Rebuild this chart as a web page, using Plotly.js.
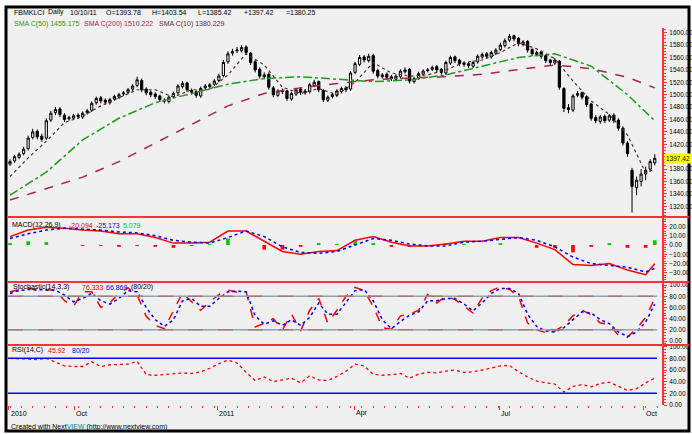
<!DOCTYPE html>
<html><head><meta charset="utf-8">
<script src="https://cdn.plot.ly/plotly-3.0.1.min.js"></script>
<style>html,body{margin:0;padding:0;background:#fff;}#chart{width:692px;height:434px;}</style>
</head><body><div id="chart"></div>
<script>
// ---- price candles (2 trading days per candle) ----
const openP=[1388,1393,1399,1405,1413,1431,1441,1433,1430,1459,
1471,1477,1467,1461,1462,1467,1464,1471,1475,1487,
1495,1491,1487,1493,1496,1501,1504,1509,1515,1523,
1509,1504,1501,1498,1491,1489,1497,1503,1513,1519,
1507,1505,1498,1511,1513,1517,1523,1531,1553,1567,
1571,1571,1577,1567,1553,1541,1529,1533,1511,1499,
1507,1506,1493,1501,1509,1503,1505,1515,1521,1507,
1491,1497,1499,1505,1511,1509,1536,1549,1561,1555,
1563,1539,1529,1533,1529,1525,1529,1537,1541,1521,
1527,1533,1539,1541,1545,1541,1535,1551,1561,1556,
1551,1550,1546,1553,1561,1566,1561,1567,1573,1579,
1588,1595,1591,1581,1586,1573,1565,1569,1563,1556,
1551,1554,1510,1479,1475,1499,1503,1497,1485,1463,
1457,1465,1459,1467,1459,1446,1422,1378,1350,1360,
1372,1380,1390];
const highP=[1396,1403,1407,1416,1434,1445,1444,1437,1462,1474,
1480,1480,1470,1466,1469,1470,1473,1477,1489,1497,
1498,1494,1495,1500,1503,1506,1511,1517,1529,1526,
1512,1507,1504,1500,1494,1499,1505,1517,1522,1521,
1510,1507,1513,1517,1519,1525,1534,1556,1570,1574,
1577,1580,1580,1569,1556,1544,1536,1536,1514,1509,
1510,1508,1505,1511,1512,1509,1519,1524,1523,1509,
1499,1503,1509,1513,1514,1538,1553,1564,1564,1566,
1566,1542,1535,1536,1532,1533,1541,1544,1543,1529,
1537,1541,1543,1547,1548,1543,1555,1563,1563,1558,
1554,1553,1555,1565,1568,1569,1571,1575,1584,1591,
1598,1597,1593,1588,1588,1575,1571,1571,1565,1558,
1559,1556,1512,1485,1501,1506,1505,1499,1487,1467,
1467,1468,1469,1470,1462,1449,1425,1382,1368,1380,
1384,1396,1404];
const lowP=[1385,1390,1396,1402,1410,1428,1428,1424,1427,1456,
1467,1464,1456,1458,1459,1461,1461,1468,1472,1484,
1486,1484,1484,1490,1493,1498,1501,1506,1512,1504,
1499,1496,1493,1488,1486,1486,1494,1500,1510,1504,
1500,1495,1495,1508,1510,1514,1520,1528,1550,1563,
1567,1568,1564,1548,1536,1526,1525,1508,1496,1496,
1501,1490,1490,1498,1500,1500,1502,1512,1504,1488,
1488,1494,1496,1502,1504,1506,1533,1546,1552,1552,
1534,1526,1526,1524,1522,1522,1526,1534,1518,1518,
1524,1530,1536,1538,1536,1532,1532,1548,1551,1546,
1545,1543,1543,1550,1558,1558,1558,1564,1570,1576,
1585,1586,1578,1578,1568,1562,1562,1558,1551,1548,
1548,1508,1472,1470,1472,1496,1492,1480,1458,1454,
1453,1454,1456,1454,1442,1418,1400,1310,1338,1352,
1362,1376,1386];
const closeP=[1392,1400,1404,1412,1430,1440,1432,1428,1458,1470,
1476,1468,1460,1463,1466,1465,1470,1474,1486,1494,
1490,1488,1492,1497,1500,1503,1508,1514,1524,1508,
1503,1500,1497,1492,1490,1496,1502,1514,1518,1508,
1504,1499,1510,1514,1516,1522,1530,1552,1566,1570,
1572,1576,1568,1552,1540,1530,1532,1512,1500,1506,
1505,1494,1502,1508,1504,1506,1516,1520,1508,1492,
1496,1500,1506,1510,1508,1535,1550,1560,1556,1562,
1538,1530,1532,1528,1526,1530,1538,1540,1522,1526,
1534,1538,1540,1544,1540,1536,1552,1560,1555,1550,
1549,1547,1552,1562,1565,1562,1568,1572,1580,1587,
1594,1590,1582,1585,1572,1566,1568,1562,1555,1552,
1556,1512,1478,1476,1498,1502,1496,1484,1462,1458,
1464,1458,1466,1458,1446,1422,1405,1352,1362,1372,
1378,1392,1397.42];

// ---- moving averages (sampled along the candle index) ----
const maIdx=[0,8,16,24,32,40,48,56,64,72,80,88,96,104,112,120,128,136,142];
const sma50=[1338,1375,1427,1462,1487,1502,1517,1526,1529,1525,1521,1524,1532,1546,1560,1566,1546,1500,1458];
const sma200=[1330,1348,1367,1392,1422,1452,1482,1502,1511,1518,1524,1527,1529,1533,1540,1548,1542,1528,1511];
const fastIdx=[0,4,8,12,16,20,24,28,32,36,40,44,48,52,56,60,64,68,72,76,80,84,88,92,96,100,104,108,112,116,120,124,128,132,136,140,142];
const sma10=[1368,1398,1425,1455,1465,1482,1495,1508,1508,1496,1508,1508,1532,1566,1548,1512,1502,1510,1500,1520,1552,1535,1530,1532,1540,1552,1556,1568,1584,1574,1558,1522,1490,1468,1435,1374,1380];

// ---- MACD(12,26,9) ----
const macdLine=[9,16,19,18,16,15,12,12,8,2,2,3,15,15,4,-7,-10,-7,-6,5,9,3,-1,-1,1,4,4,8,8,2,-5,-21,-22,-20,-27,-32,-20.09];
const signalLine=[7,12,16,18,17,16,14,13,10,5,3,2,8,15,9,-2,-8,-9,-7,0,7,5,1,-1,-1,3,4,6,8,5,-2,-13,-20,-22,-24,-29,-25.17];
const macdHist=[2,4,3,0,-1,-1,-2,-1,-2,-3,-1,1,7,0,-5,-5,-2,2,1,5,2,-2,-2,0,2,1,0,2,0,-3,-3,-8,-2,2,-3,-3,5.08];

// ---- Stochastic and RSI ----
const oscIdx=[0,2,4,6,8,10,12,14,16,18,20,22,24,26,28,30,32,34,36,38,40,42,44,46,48,50,52,54,56,58,60,62,64,66,68,70,72,74,76,78,80,82,84,86,88,90,92,94,96,98,100,102,104,106,108,110,112,114,116,118,120,122,124,126,128,130,132,134,136,138,140,142];
const stochK=[88,92,95,90,92,90,72,62,88,88,60,68,86,95,82,44,28,22,55,86,70,55,70,83,91,87,88,25,32,40,20,48,18,55,76,32,55,80,96,90,62,24,21,45,48,55,83,68,80,74,62,50,77,90,97,92,80,32,20,15,18,28,45,55,47,32,30,10,7,22,42,76];
const stochD=[85,90,92,92,91,91,82,70,76,85,72,66,76,90,88,60,38,26,38,72,76,62,62,76,88,89,88,45,30,36,28,38,28,42,68,48,48,70,90,92,72,38,22,35,46,52,72,72,76,76,66,54,68,85,94,94,85,48,26,18,16,24,38,52,50,38,31,16,8,16,34,66];
const rsiVals=[80,79,78,78,80,74,67,66,66,74,66,69,69,70,75,52,51,52,54,55,54,57,63,71,77,72,56,42,48,40,43,46,38,50,43,42,49,58,70,67,53,51,52,54,46,53,56,55,58,60,56,57,60,63,67,68,57,48,41,38,36,22,32,35,31,37,39,32,25,28,38,46];
const stochLevels=[80,20];
const rsiLevels=[80,20];

// ---- axes ----
const priceTicks=[1320,1340,1360,1380,1400,1420,1440,1460,1480,1500,1520,1540,1560,1580,1600];
const tickIdx=[-0.26,14.1,45.6,75.8,107.7,139.6];
const tickLabels=['2010','Oct','2011','Apr','Jul','Oct'];

// ---- legend texts ----
const headerFields=['FBMKLCI','Daily','10/10/11','O=1393.78','H=1403.54','L=1385.42','+1397.42','=1380.25'];
const smaLegend=[['SMA C(50) 1455.175','#1f9a1f'],['SMA C(200) 1510.222','#b0204a'],['SMA C(10) 1380.229','#5a2a2a']];
const macdLegend=[['MACD(12,26,9)','#000'],['-20.094','#ff0000'],['-25.173','#0000ff'],['5.079','#00cc00']];
const stochLegend=[['Stochastic(14,3,3)','#000'],['76.333','#ff0000'],['66.869','#0000ff'],['(80/20)','#000']];
const rsiLegend=[['RSI(14,C)','#000'],['45.92','#ff0000'],['80/20','#0000ff']];

const W=692,H=434;
const FONT='Liberation Sans, Arial, sans-serif';
const RED='#ff3333';
const candleIdx=closeP.map((_,i)=>i);
const lastClose=closeP[closeP.length-1];
function px(x){return x/W;}
function py(y){return 1-y/H;}
function ann(text,x,y,color,size){return {xref:'paper',yref:'paper',x:px(x),y:py(y),xanchor:'left',yanchor:'middle',text:text,showarrow:false,font:{family:FONT,size:size||7,color:color||'#000'}};}

const traces=[
 {type:'scatter',mode:'lines',x:maIdx,y:sma200,yaxis:'y',line:{color:'#b0204a',width:1.5,dash:'dash'},hoverinfo:'skip'},
 {type:'scatter',mode:'lines',x:maIdx,y:sma50,yaxis:'y',line:{color:'#1f9a1f',width:1.5,dash:'dashdot'},hoverinfo:'skip'},
 {type:'candlestick',x:candleIdx,open:openP,high:highP,low:lowP,close:closeP,xaxis:'x',yaxis:'y',
  increasing:{line:{color:'#000',width:1},fillcolor:'#f0f0f0'},decreasing:{line:{color:'#000',width:1},fillcolor:'#000'},whiskerwidth:0,hoverinfo:'skip'},
 {type:'scatter',mode:'lines',x:fastIdx,y:sma10,yaxis:'y',line:{color:'#5a2a2a',width:1.2,dash:'dot'},hoverinfo:'skip'},
 {type:'bar',x:fastIdx,y:macdHist,yaxis:'y2',width:0.8,marker:{color:macdHist.map(v=>v>=0?'#00cc00':'#ff0000')},hoverinfo:'skip'},
 {type:'scatter',mode:'lines',x:fastIdx,y:macdLine,yaxis:'y2',line:{color:'#ff0000',width:1.5},hoverinfo:'skip'},
 {type:'scatter',mode:'lines',x:fastIdx,y:signalLine,yaxis:'y2',line:{color:'#0000ff',width:1.5,dash:'dot'},hoverinfo:'skip'},
 {type:'scatter',mode:'lines',x:oscIdx,y:stochK,yaxis:'y3',line:{color:'#ff0000',width:1.5,dash:'dash'},hoverinfo:'skip'},
 {type:'scatter',mode:'lines',x:oscIdx,y:stochD,yaxis:'y3',line:{color:'#0000ff',width:1.5,dash:'dot'},hoverinfo:'skip'},
 {type:'scatter',mode:'lines',x:oscIdx,y:rsiVals,yaxis:'y4',line:{color:'#ff0000',width:1.3,dash:'dot'},hoverinfo:'skip'}
];

const yCommon={side:'right',anchor:'x',showline:true,linecolor:RED,linewidth:2,ticks:'outside',tickcolor:RED,ticklen:3,tickwidth:1,
 showgrid:false,zeroline:false,tickfont:{family:FONT,size:6.5,color:'#000'},tickformat:'.2f',fixedrange:true,tickmode:'linear',
 ticklabelstandoff:1};

const shapes=[
 {type:'rect',xref:'paper',yref:'paper',x0:px(6),x1:px(689),y0:py(431),y1:py(7),line:{color:'#000',width:3},fillcolor:'#f0f0f0',layer:'below'},
];
[217,282,345].forEach(y=>shapes.push({type:'line',xref:'paper',yref:'paper',x0:px(8),x1:px(689),y0:py(y),y1:py(y),line:{color:RED,width:2}}));
stochLevels.forEach(v=>{
 shapes.push({type:'line',xref:'paper',yref:'y3',x0:px(8),x1:px(657),y0:v,y1:v,line:{color:'#8fa4ac',width:1.5}});
 shapes.push({type:'line',xref:'paper',yref:'y3',x0:px(8),x1:px(657),y0:v,y1:v,line:{color:'#a47a7a',width:1.5,dash:'longdash'}});
});
rsiLevels.forEach(v=>shapes.push({type:'line',xref:'paper',yref:'y4',x0:px(8),x1:px(657),y0:v,y1:v,line:{color:'#0000ff',width:1.5}}));

const annotations=[];
const headerX=[12,46,68,104,150,196,242,284];
headerFields.forEach((t,k)=>annotations.push(ann(t,headerX[k],12.5,'#000')));
const smaX=[12,82,157];
smaLegend.forEach((s,k)=>annotations.push(ann(s[0],smaX[k],24,s[1])));
const macdX=[10,67,94,121];
macdLegend.forEach((s,k)=>annotations.push(ann(s[0],macdX[k],225,s[1])));
const stochX=[11,80,104,129];
stochLegend.forEach((s,k)=>annotations.push(ann(s[0],stochX[k],287,s[1])));
const rsiX=[10,46,70];
rsiLegend.forEach((s,k)=>annotations.push(ann(s[0],rsiX[k],350,s[1])));
tickIdx.forEach((t,k)=>annotations.push({xref:'x',yref:'paper',x:t,y:py(413),xanchor:'left',yanchor:'middle',text:tickLabels[k],showarrow:false,font:{family:FONT,size:7,color:'#000'}}));
annotations.push(ann('Created with Next<span style="color:#008080">VIEW</span> (http://www.nextview.com)',9,427,'#000',7));
annotations.push({xref:'paper',yref:'y',x:px(664),y:lastClose,xanchor:'left',yanchor:'middle',text:lastClose.toFixed(2),showarrow:false,bgcolor:'#ffff00',borderpad:1,font:{family:FONT,size:6.5,color:'#000'}});

const layout={width:W,height:H,margin:{l:0,r:0,t:0,b:0},paper_bgcolor:'#ffffff',plot_bgcolor:'rgba(0,0,0,0)',showlegend:false,
 xaxis:{domain:[px(8),px(662)],range:[-0.44,143.6],anchor:'y4',showline:false,showgrid:false,zeroline:false,
  tickmode:'array',tickvals:tickIdx,ticktext:tickLabels.map(()=>''),ticks:'outside',tickcolor:RED,ticklen:4,
  minor:{tickmode:'linear',tick0:0,dtick:2.5,ticks:'outside',ticklen:2,tickcolor:RED},
  rangeslider:{visible:false},fixedrange:true},
 yaxis:Object.assign({},yCommon,{domain:[py(217),py(28)],range:[1302.7,1607.6],tickmode:'array',tickvals:priceTicks,
  ticktext:priceTicks.map(v=>Math.abs(v-lastClose)<10?'':v.toFixed(2)),minor:{tickmode:'linear',tick0:1300,dtick:5,ticks:'outside',ticklen:2,tickcolor:RED}}),
 yaxis2:Object.assign({},yCommon,{domain:[py(282),py(218)],range:[-39.8,29],tick0:0,dtick:10,minor:{ticks:'outside',ticklen:2,tickcolor:RED,dtick:2.5}}),
 yaxis3:Object.assign({},yCommon,{domain:[py(345),py(282)],range:[-7.1,105.4],tick0:0,dtick:20,minor:{ticks:'outside',ticklen:2,tickcolor:RED,dtick:5}}),
 yaxis4:Object.assign({},yCommon,{domain:[py(405),py(345)],range:[0,102.9],tick0:0,dtick:20,minor:{ticks:'outside',ticklen:2,tickcolor:RED,dtick:5}}),
 shapes:shapes,annotations:annotations};

Plotly.newPlot('chart',traces,layout,{staticPlot:true,displayModeBar:false});
</script></body></html>
